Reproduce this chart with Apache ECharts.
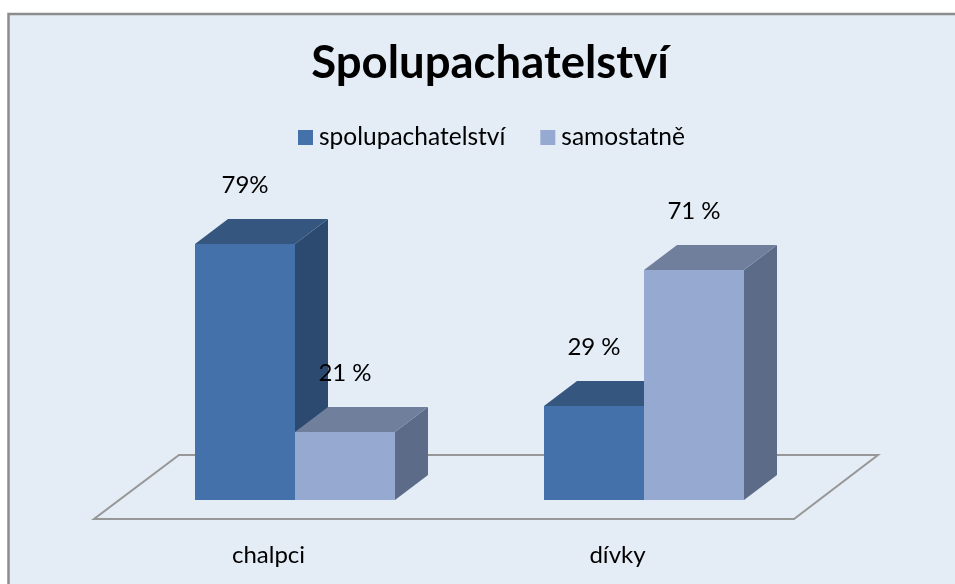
<!DOCTYPE html>
<html>
<head>
<meta charset="utf-8">
<script src="https://cdn.jsdelivr.net/npm/echarts@6/dist/echarts.min.js"></script>
<style>
html, body { margin: 0; padding: 0; background: #fff; }
#main { width: 955px; height: 584px; }
</style>
</head>
<body>
<div id="main"></div>
<script>
const titleText = 'Spolupachatelství'
const categories = ['chalpci', 'dívky']
const seriesNames = ['spolupachatelství', 'samostatně']
const spolupachatelstvi = [79, 29]
const samostatne = [21, 71]
const spolupachatelstviLabels = ['79%', '29 %']
const samostatneLabels = ['21 %', '71 %']

const fontName = 'Lato'
const barWidth = 100
const depthX = 33
const depthY = 25
const shiftX = 26.5

function barItem(side, labels, colors) {
    return function (params, api) {
        const cat = api.value(0)
        const val = api.value(1)
        const center = api.coord([cat, 0])
        const top = api.coord([cat, val])
        const x0 = center[0] + shiftX + (side < 0 ? -barWidth : 0)
        const x1 = x0 + barWidth
        const y0 = center[1]
        const y1 = top[1]
        return {
            type: 'group',
            children: [
                {
                    type: 'polygon',
                    shape: {points: [[x1, y1], [x1 + depthX, y1 - depthY], [x1 + depthX, y0 - depthY], [x1, y0]]},
                    style: {fill: colors.side}
                },
                {
                    type: 'polygon',
                    shape: {points: [[x0, y1], [x0 + depthX, y1 - depthY], [x1 + depthX, y1 - depthY], [x1, y1]]},
                    style: {fill: colors.top}
                },
                {
                    type: 'rect',
                    shape: {x: x0, y: y1, width: barWidth, height: y0 - y1},
                    style: {fill: colors.front}
                },
                {
                    type: 'text',
                    z2: 50,
                    style: {
                        x: (x0 + x1) / 2,
                        y: y1 - 59,
                        text: labels[params.dataIndex],
                        fill: '#000',
                        font: '24px ' + fontName,
                        align: 'center',
                        verticalAlign: 'middle'
                    }
                }
            ]
        }
    }
}

function floorItem(params, api) {
    const g = params.coordSys
    const y0 = g.y + g.height
    return {
        type: 'polygon',
        silent: true,
        shape: {
            points: [
                [g.x, y0 + 19],
                [g.x + g.width + 2, y0 + 19],
                [g.x + g.width + 86, y0 - 45],
                [g.x + 85, y0 - 45]
            ]
        },
        style: {fill: 'none', stroke: '#979797', lineWidth: 2}
    }
}

const chart = echarts.init(document.getElementById('main'), null, {renderer: 'canvas'})
chart.setOption({
    animation: false,
    backgroundColor: '#fff',
    graphic: [
        {
            type: 'rect',
            z: -10,
            shape: {x: 8.5, y: 14, width: 960, height: 590},
            style: {fill: '#E4ECF6', stroke: '#8C8C8C', lineWidth: 2.5}
        }
    ],
    title: {
        text: titleText,
        left: 485,
        top: 35,
        textAlign: 'center',
        textStyle: {fontFamily: fontName, fontSize: 45.5, fontWeight: 'bold', color: '#000'}
    },
    legend: {
        left: 293,
        top: 120,
        icon: 'rect',
        itemWidth: 15,
        itemHeight: 15,
        itemGap: 35,
        data: seriesNames,
        textStyle: {fontFamily: fontName, fontSize: 24.5, color: '#000', padding: [0, 0, 0, 1]}
    },
    grid: {left: 94, top: 176, width: 698, height: 324},
    xAxis: {
        type: 'category',
        data: categories,
        axisLine: {show: false},
        axisTick: {show: false},
        axisLabel: {margin: 43, fontFamily: fontName, fontSize: 24, color: '#000'}
    },
    yAxis: {
        type: 'value',
        min: 0,
        max: 100,
        show: false
    },
    series: [
        {
            type: 'custom',
            name: 'floor',
            silent: true,
            z: 1,
            renderItem: floorItem,
            data: [0]
        },
        {
            type: 'custom',
            name: seriesNames[0],
            z: 2,
            itemStyle: {color: '#4471A9'},
            renderItem: barItem(-1, spolupachatelstviLabels, {front: '#4471A9', top: '#35577F', side: '#2C4A70'}),
            encode: {x: 0, y: 1},
            data: spolupachatelstvi.map((v, i) => [i, v])
        },
        {
            type: 'custom',
            name: seriesNames[1],
            z: 3,
            itemStyle: {color: '#95A9D1'},
            renderItem: barItem(1, samostatneLabels, {front: '#95A9D1', top: '#707F9C', side: '#5C6B87'}),
            encode: {x: 0, y: 1},
            data: samostatne.map((v, i) => [i, v])
        }
    ]
})
</script>
</body>
</html>
